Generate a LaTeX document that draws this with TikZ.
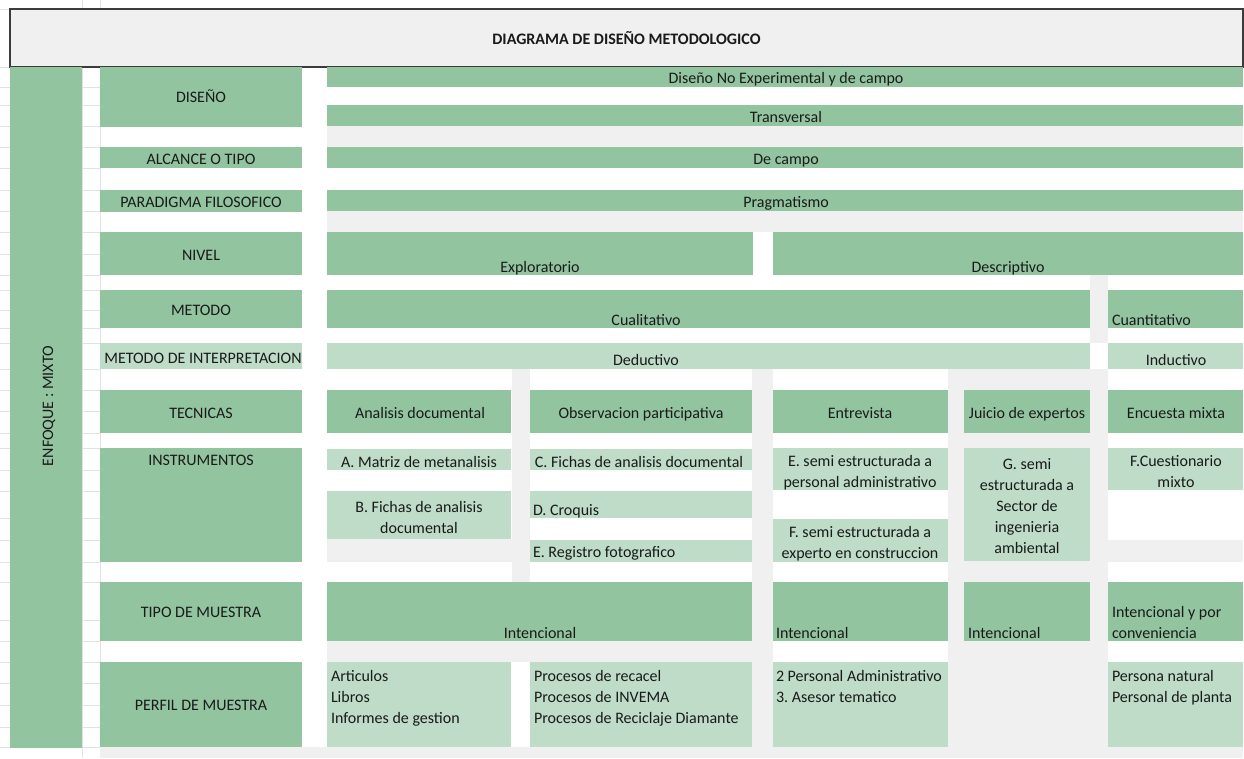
\documentclass[tikz,border=0pt]{standalone}
\usepackage{fontspec}
\setmainfont{Carlito}
\frenchspacing
\definecolor{dg}{HTML}{93C4A0}
\definecolor{lg}{HTML}{BEDCC7}
\definecolor{gbg}{HTML}{F0F0F0}
\definecolor{gridc}{HTML}{E2E2E2}
\definecolor{txtc}{HTML}{1A1A1A}
\definecolor{hdr}{HTML}{3C3C3C}
\newcommand\cellnode[6]{\node[#6, anchor=north west, minimum width={#4pt-#2pt}, minimum height={#5pt-#3pt}] (#1) at (#2,#3) {};}
\tikzset{
  cellbase/.style={inner sep=0pt, outer sep=0pt, draw=none, rectangle},
  dark/.style={cellbase, fill=dg},
  light/.style={cellbase, fill=lg},
  bggrey/.style={cellbase, fill=gbg},
  headbox/.style={cellbase, fill=gbg, draw=hdr, line width=1.4pt},
  txt/.style={inner sep=0pt, outer sep=0pt, font=\fontsize{16}{21}\selectfont, text=txtc},
  gridline/.style={draw=gridc, line width=0.6pt},
}
\begin{document}
\begin{tikzpicture}[x=1pt, y=-1pt]
\useasboundingbox (0,0) rectangle (1244,758);
\fill[white] (0,0) rectangle (1244,758);
% spreadsheet grid in margins
\foreach \r in {9,67,87,105,126,147,168,190,211,232,254,275,290,310,328,343,369,390,411,433,448,470,491,518,540,562,582,620,641,662,683,705,727,747} {
  \draw[gridline] (0,\r) -- (10,\r);
  \draw[gridline] (82,\r) -- (100,\r);
}
\draw[gridline] (82,0) -- (82,758);
\draw[gridline] (100,0) -- (100,758);
% grey background cells
\cellnode{g1}{327}{126}{1243}{147}{bggrey}
\cellnode{g2}{327}{211}{1243}{232}{bggrey}
\cellnode{g3}{1090}{275}{1108}{343}{bggrey}
\cellnode{g4}{512}{369}{530}{582}{bggrey}
\cellnode{g5}{752}{369}{773}{758}{bggrey}
\cellnode{g6}{948}{369}{1108}{758}{bggrey}
\cellnode{g7}{327}{539}{512}{562}{bggrey}
\cellnode{g8}{1108}{540}{1243}{562}{bggrey}
\cellnode{g9}{327}{641}{773}{662}{bggrey}
\cellnode{g10}{100}{747}{1243}{758}{bggrey}
% header
\cellnode{head}{10}{9}{1243}{67}{headbox}
\node[txt, font=\fontsize{16}{19}\selectfont\bfseries] (title) at (head.center) {DIAGRAMA DE DISEÑO METODOLOGICO};
% enfoque column
\cellnode{enf}{10}{67}{82}{748}{dark}
\node[txt, rotate=90, anchor=base] (enft) at (53,406) {ENFOQUE : MIXTO};
% label column
\cellnode{l1}{100}{67}{302}{127}{dark}
\cellnode{l2}{100}{147}{302}{168}{dark}
\cellnode{l3}{100}{190}{302}{212}{dark}
\cellnode{l4}{100}{232}{302}{275}{dark}
\cellnode{l5}{100}{290}{302}{328}{dark}
\cellnode{l6}{100}{343}{302}{369}{light}
\cellnode{l7}{100}{390}{302}{433}{dark}
\cellnode{l8}{100}{448}{302}{562}{dark}
\cellnode{l9}{100}{582}{302}{641}{dark}
\cellnode{l10}{100}{662}{302}{747}{dark}
\node[txt, anchor=base] (l1t) at (201,102) {DISEÑO};
\node[txt, anchor=base] (l2t) at (201,164) {ALCANCE O TIPO};
\node[txt, anchor=base] (l3t) at (201,207) {PARADIGMA FILOSOFICO};
\node[txt, anchor=base] (l4t) at (201,260) {NIVEL};
\node[txt, anchor=base] (l5t) at (201,315) {METODO};
\node[txt, anchor=base] (l6t) at (203,363) {METODO DE INTERPRETACION};
\node[txt, anchor=base] (l7t) at (201,418) {TECNICAS};
\node[txt, anchor=base] (l8t) at (201,465) {INSTRUMENTOS};
\node[txt, anchor=base] (l9t) at (201,617) {TIPO DE MUESTRA};
\node[txt, anchor=base] (l10t) at (201,710) {PERFIL DE MUESTRA};
% top full-width rows
\cellnode{r1}{327}{67}{1243}{87}{dark}
\cellnode{r2}{327}{105}{1243}{126}{dark}
\cellnode{r3}{327}{147}{1243}{168}{dark}
\cellnode{r4}{327}{190}{1243}{211}{dark}
\node[txt, anchor=base] (r1t) at (786,83) {Diseño No Experimental y de campo};
\node[txt, anchor=base] (r2t) at (786,122) {Transversal};
\node[txt, anchor=base] (r3t) at (786,164) {De campo};
\node[txt, anchor=base] (r4t) at (786,207) {Pragmatismo};
% nivel
\cellnode{n1}{327}{232}{753}{275}{dark}
\cellnode{n2}{773}{232}{1243}{275}{dark}
\node[txt, anchor=base] (n1t) at (540,272) {Exploratorio};
\node[txt, anchor=base] (n2t) at (1008,272) {Descriptivo};
% metodo
\cellnode{m1}{327}{290}{1090}{328}{dark}
\cellnode{m2}{1108}{290}{1243}{328}{dark}
\node[txt, anchor=base] (m1t) at (646,325) {Cualitativo};
\node[txt, anchor=base west] (m2t) at (1112,325) {Cuantitativo};
% metodo de interpretacion
\cellnode{i1}{327}{343}{1090}{369}{light}
\cellnode{i2}{1108}{343}{1243}{369}{light}
\node[txt, anchor=base] (i1t) at (646,365) {Deductivo};
\node[txt, anchor=base] (i2t) at (1176,365) {Inductivo};
% tecnicas
\cellnode{t1}{327}{390}{511}{433}{dark}
\cellnode{t2}{530}{390}{752}{433}{dark}
\cellnode{t3}{773}{390}{948}{433}{dark}
\cellnode{t4}{964}{390}{1090}{433}{dark}
\cellnode{t5}{1108}{390}{1243}{433}{dark}
\node[txt, anchor=base] (t1t) at (420,418) {Analisis documental};
\node[txt, anchor=base] (t2t) at (641,418) {Observacion participativa};
\node[txt, anchor=base] (t3t) at (860,418) {Entrevista};
\node[txt, anchor=base] (t4t) at (1027,418) {Juicio de expertos};
\node[txt, anchor=base] (t5t) at (1176,418) {Encuesta mixta};
% instrumentos
\cellnode{a1}{327}{449}{511}{470}{light}
\cellnode{a2}{327}{491}{511}{539}{light}
\cellnode{a3}{530}{449}{752}{470}{light}
\cellnode{a4}{530}{491}{752}{518}{light}
\cellnode{a5}{530}{540}{752}{562}{light}
\cellnode{a6}{773}{448}{948}{490}{light}
\cellnode{a7}{773}{519}{948}{562}{light}
\cellnode{a8}{964}{448}{1090}{561}{light}
\cellnode{a9}{1108}{448}{1243}{490}{light}
\node[txt, anchor=base] (a1t) at (419,467) {A. Matriz de metanalisis};
\node[txt, anchor=base, align=center] (a2t) at (419,533) {B. Fichas de analisis\\documental};
\node[txt, anchor=base] (a3t) at (639,467) {C. Fichas de analisis documental};
\node[txt, anchor=base west] (a4t) at (533,515) {D. Croquis};
\node[txt, anchor=base west] (a5t) at (533,557) {E. Registro fotografico};
\node[txt, anchor=base, align=center] (a6t) at (860,487) {E. semi estructurada a\\personal administrativo};
\node[txt, anchor=base, align=center] (a7t) at (860,558) {F. semi estructurada a\\experto en construccion};
\node[txt, anchor=base, align=center] (a8t) at (1027,553) {G. semi\\estructurada a\\Sector de\\ingenieria\\ambiental};
\node[txt, anchor=base, align=center] (a9t) at (1176,487) {F.Cuestionario\\mixto};
% tipo de muestra
\cellnode{s1}{327}{582}{752}{641}{dark}
\cellnode{s2}{773}{582}{948}{641}{dark}
\cellnode{s3}{964}{582}{1090}{641}{dark}
\cellnode{s4}{1108}{582}{1243}{641}{dark}
\node[txt, anchor=base] (s1t) at (540,638) {Intencional};
\node[txt, anchor=base west] (s2t) at (776,638) {Intencional};
\node[txt, anchor=base west] (s3t) at (968,638) {Intencional};
\node[txt, anchor=base west, align=left] (s4t) at (1112,638) {Intencional y por\\conveniencia};
% perfil de muestra
\cellnode{p1}{327}{662}{511}{747}{light}
\cellnode{p2}{530}{662}{752}{747}{light}
\cellnode{p3}{773}{662}{948}{747}{light}
\cellnode{p4}{1108}{662}{1243}{747}{light}
\node[txt, anchor=base west, align=left] (p1t) at (331,723) {Articulos\\Libros\\Informes de gestion};
\node[txt, anchor=base west, align=left] (p2t) at (534,723) {Procesos de recacel\\Procesos de INVEMA\\Procesos de Reciclaje Diamante};
\node[txt, anchor=base west, align=left] (p3t) at (776,702) {2 Personal Administrativo\\3. Asesor tematico};
\node[txt, anchor=base west, align=left] (p4t) at (1112,702) {Persona natural\\Personal de planta};
\end{tikzpicture}
\end{document}
